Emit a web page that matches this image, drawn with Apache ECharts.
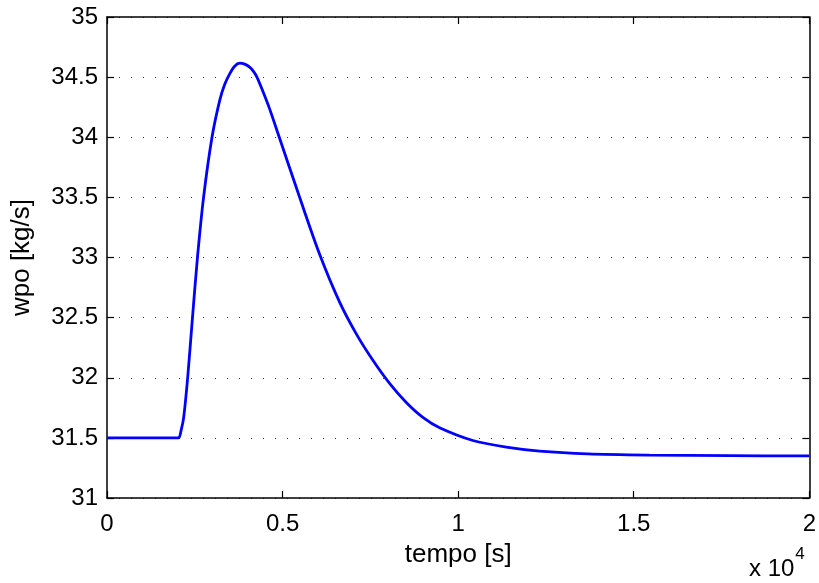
<!DOCTYPE html>
<html>
<head>
<meta charset="utf-8">
<script src="https://cdn.jsdelivr.net/npm/echarts@6/dist/echarts.min.js"></script>
<style>
html,body{margin:0;padding:0;background:#fff;}
#c{width:819px;height:583px;}
</style>
</head>
<body>
<div id="c"></div>
<script>
// time in seconds
var timeS = [0, 1000, 1900, 2040, 2112, 2183, 2297, 2434, 2576, 2750, 2990, 3208, 3350, 3493, 3635, 3777, 3920, 4062, 4176, 4270, 4441, 4631, 4896, 5485, 6055, 6624, 7099, 7572, 8047, 8523, 8995, 9471, 10418, 11369, 12317, 13692, 15448, 17726, 20000];
// wpo [kg/s]
var wpo =   [31.5, 31.5, 31.5, 31.5, 31.564, 31.668, 32.0, 32.5, 33.0, 33.5, 34.0, 34.305, 34.438, 34.527, 34.591, 34.616, 34.608, 34.583, 34.546, 34.5, 34.38, 34.236, 34.008, 33.501, 33.027, 32.629, 32.365, 32.145, 31.953, 31.794, 31.67, 31.584, 31.478, 31.423, 31.39, 31.367, 31.357, 31.352, 31.35];
var yTicks = [31, 31.5, 32, 32.5, 33, 33.5, 34, 34.5, 35];
var xTickLabels = ['0', '0.5', '1', '1.5', '2'];

var chart = echarts.init(document.getElementById('c'), null, {renderer: 'canvas'});
var FONT = 'Liberation Sans';
var FS = 24;
var FT = 26;
var data = timeS.map(function (t, i) { return [t, wpo[i]]; });
var axisLine = {show: true, onZero: false, lineStyle: {color: '#000', width: 1.5}};
var ticks = {show: true, inside: true, length: 7, lineStyle: {color: '#000', width: 1.2}};

chart.setOption({
  animation: false,
  backgroundColor: '#fff',
  grid: {left: 107, right: 9, top: 17, bottom: 85, containLabel: false},
  xAxis: [{
    type: 'value', min: 0, max: 20000, interval: 5000, position: 'bottom',
    name: 'tempo [s]', nameLocation: 'middle', nameGap: 44,
    nameTextStyle: {fontFamily: FONT, fontSize: FT, color: '#000'},
    axisLine: axisLine, axisTick: ticks,
    axisLabel: {fontFamily: FONT, fontSize: FS, color: '#000', margin: 14,
      formatter: function (v) { return xTickLabels[Math.round(v / 5000)]; }},
    splitLine: {show: false}
  }, {
    type: 'value', min: 0, max: 20000, interval: 5000, position: 'top',
    axisLine: axisLine, axisTick: ticks, axisLabel: {show: false}, splitLine: {show: false}
  }],
  yAxis: [{
    type: 'value', min: 31, max: 35, interval: 0.5, position: 'left',
    name: 'wpo [kg/s]', nameLocation: 'middle', nameGap: 72,
    nameTextStyle: {fontFamily: FONT, fontSize: FT, color: '#000'},
    axisLine: axisLine, axisTick: ticks,
    axisLabel: {fontFamily: FONT, fontSize: FS, color: '#000', margin: 9,
      formatter: function (v) { var i = Math.round((v - 31) / 0.5); return String(yTicks[i]); }},
    splitLine: {show: true, lineStyle: {color: '#333', width: 1, type: [1, 11]}}
  }, {
    type: 'value', min: 31, max: 35, interval: 0.5, position: 'right',
    axisLine: axisLine, axisTick: ticks, axisLabel: {show: false}, splitLine: {show: false}
  }],
  graphic: [{
    type: 'text', left: 749, top: 546,
    style: {
      rich: {
        b: {fontFamily: FONT, fontSize: FS, fill: '#000', padding: [11, 0, 0, 0]},
        s: {fontFamily: FONT, fontSize: 17, fill: '#000', verticalAlign: 'top', padding: [0, 0, 0, 1]}
      },
      text: '{b|x 10}{s|4}'
    }
  }],
  series: [{
    type: 'line', data: data, showSymbol: false, smooth: 0.3,
    lineStyle: {color: '#0000ff', width: 2.8}, clip: true
  }]
});
</script>
</body>
</html>
